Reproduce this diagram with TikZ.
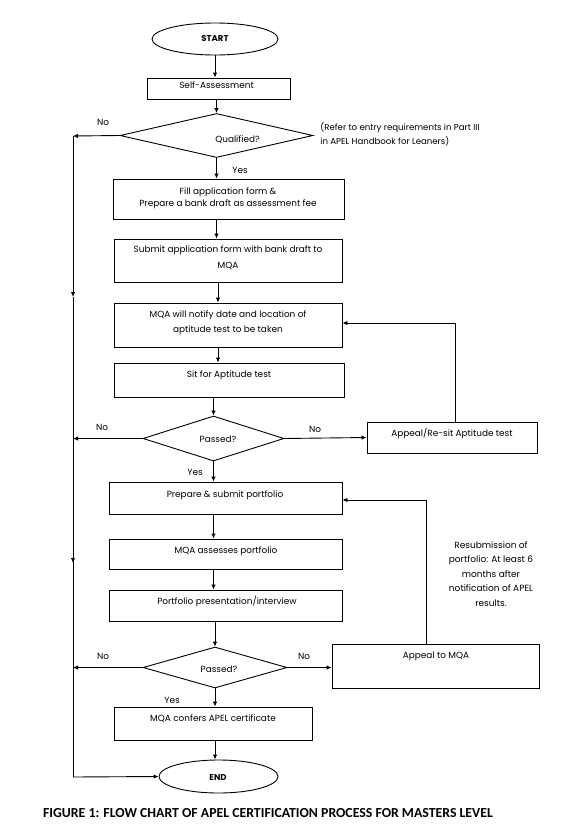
\documentclass[tikz,border=0pt]{standalone}
\usepackage{fontspec}
\setmainfont{Poppins}
\newfontfamily\capfont{Carlito}
\usetikzlibrary{shapes.geometric,arrows.meta}
\begin{document}
\begin{tikzpicture}[x=1pt,y=-1pt, line width=0.9pt,
  box/.style={draw, rectangle, inner sep=0pt},
  dec/.style={draw, diamond, inner sep=0pt},
  term/.style={draw, ellipse, inner sep=0pt},
  txt/.style={font=\fontsize{8.9}{12}\selectfont, align=center, inner sep=0pt},
  lbl/.style={font=\fontsize{8.9}{10}\selectfont, inner sep=0pt},
  arr/.style={-{Latex[length=5pt,width=4.5pt]}}]
\useasboundingbox[fill=white] (0,0) rectangle (582,827);

% shapes
\node[term, minimum width=126pt, minimum height=32pt] (start) at (215,39) {};
\node[txt, font=\fontsize{8.5}{12}\selectfont\bfseries] (startT) at (215,38.5) {START};
\node[box, minimum width=143pt, minimum height=21pt] (self) at (218.5,88.5) {};
\node[txt] (selfT) at (216.5,85.5) {Self-Assessment};
\node[dec, minimum width=193pt, minimum height=44pt] (qual) at (216.5,135.5) {};
\node[txt] (qualT) at (237.5,139.5) {Qualified?};
\node[box, minimum width=231pt, minimum height=40pt] (fill) at (228.5,199) {};
\node[txt] (fillT) at (228,198) {Fill application form \&\\ Prepare a bank draft as assessment fee};
\node[box, minimum width=228pt, minimum height=43pt] (submit) at (228,260.5) {};
\node[txt, font=\fontsize{8.9}{16}\selectfont] (submitT) at (228,258) {Submit application form with bank draft to\\ MQA};
\node[box, minimum width=228pt, minimum height=44pt] (notify) at (228,325) {};
\node[txt, font=\fontsize{8.9}{15}\selectfont] (notifyT) at (228,322.5) {MQA will notify date and location of\\ aptitude test to be taken};
\node[box, minimum width=230pt, minimum height=34pt] (sit) at (229,380) {};
\node[txt] (sitT) at (229,375.5) {Sit for Aptitude test};
\node[dec, minimum width=141pt, minimum height=45pt] (pass1) at (213.5,438.5) {};
\node[txt] (pass1T) at (218,439) {Passed?};
\node[box, minimum width=170pt, minimum height=31pt] (resit) at (452,437.5) {};
\node[txt] (resitT) at (452,433.5) {Appeal/Re-sit Aptitude test};
\node[box, minimum width=233pt, minimum height=32pt] (prep) at (225.5,498) {};
\node[txt] (prepT) at (225,495.5) {Prepare \& submit portfolio};
\node[box, minimum width=233pt, minimum height=30pt] (assess) at (225.5,554) {};
\node[txt] (assessT) at (226,551.5) {MQA assesses portfolio};
\node[box, minimum width=233pt, minimum height=31pt] (pres) at (225.5,605.5) {};
\node[txt] (presT) at (227,601.5) {Portfolio presentation/interview};
\node[dec, minimum width=144pt, minimum height=41pt] (pass2) at (215,667.5) {};
\node[txt] (pass2T) at (219,669) {Passed?};
\node[box, minimum width=207pt, minimum height=44pt] (appeal) at (435.5,666) {};
\node[txt] (appealT) at (436,656.5) {Appeal to MQA};
\node[box, minimum width=198pt, minimum height=33pt] (conf) at (213,723.5) {};
\node[txt] (confT) at (213,718.5) {MQA confers APEL certificate};
\node[term, minimum width=119pt, minimum height=33pt] (end) at (218.5,776.5) {};
\node[txt, font=\fontsize{8.5}{12}\selectfont\bfseries] (endT) at (218,777.5) {END};

% notes
\node[txt, align=left, anchor=west, font=\fontsize{8.6}{14}\selectfont] (note1) at (320,134) {(Refer to entry requirements in Part III\\ in APEL Handbook for Leaners)};
\node[txt, font=\fontsize{9}{14.5}\selectfont] (note2) at (491,574) {Resubmission of\\ portfolio: At least 6\\ months after\\ notification of APEL\\ results.};

% labels
\node[lbl] (no1) at (103,122) {No};
\node[lbl] (yes1) at (240,170) {Yes};
\node[lbl] (no2) at (102,427) {No};
\node[lbl] (no3) at (315,429) {No};
\node[lbl] (yes2) at (195,472) {Yes};
\node[lbl] (no4) at (103,656) {No};
\node[lbl] (no5) at (304,656) {No};
\node[lbl] (yes3) at (172,700) {Yes};

% left return line
\coordinate (L1) at (73,136);
\coordinate (Lm1) at (73,297);
\coordinate (L2) at (73,438.5);
\coordinate (Lm2) at (73,563);
\coordinate (L3) at (73,667.5);
\coordinate (L4) at (73,777);

% main flow
\draw[arr] (start.south) -- (start.south |- self.north);
\draw[arr] (qual.north |- self.south) -- (qual.north);
\draw[arr] (qual.south) -- (qual.south |- fill.north);
\draw[arr] (qual.south |- fill.south) -- (qual.south |- submit.north);
\draw[arr] ([xshift=-10pt]submit.south) -- ([xshift=-10pt]submit.south |- notify.north);
\draw[arr] ([xshift=-10pt]notify.south) -- ([xshift=-10pt]notify.south |- sit.north);
\draw[arr] (pass1.north |- sit.south) -- (pass1.north);
\draw[arr] (pass1.south) -- (pass1.south |- prep.north);
\draw[arr] (pass1.south |- prep.south) -- (pass1.south |- assess.north);
\draw[arr] (pass1.south |- assess.south) -- (pass1.south |- pres.north);
\draw[arr] (pass2.north |- pres.south) -- (pass2.north);
\draw[arr] (pass2.south) -- (pass2.south |- conf.north);
\draw[arr] (pass2.south |- conf.south) -- (pass2.south |- end.north);

% no branches
\draw[arr] (qual.west) -- (L1);
\draw[arr] (L1) -- (Lm1);
\draw (Lm1) -- (L4);
\draw[arr] (pass1.west) -- (L2);
\draw[arr] (L2) -- (Lm2);
\draw[arr] (pass2.west) -- (L3);
\draw[arr] (L4) -- (end.west);
\draw[arr] (pass1.east) -- (resit.west);
\draw[arr] (pass2.east) -- (pass2.east -| appeal.west);

% feedback loops
\draw[arr] ([xshift=3pt]resit.north) |- ([yshift=2pt]notify.east);
\draw[arr] ([xshift=-9.5pt]appeal.north) |- ([yshift=-2pt]prep.east);

% caption
\node[inner sep=0pt, font=\capfont\bfseries\fontsize{13.8}{16}\selectfont] (cap) at (268,813) {FIGURE 1: FLOW CHART OF APEL CERTIFICATION PROCESS FOR MASTERS LEVEL};
\end{tikzpicture}
\end{document}
